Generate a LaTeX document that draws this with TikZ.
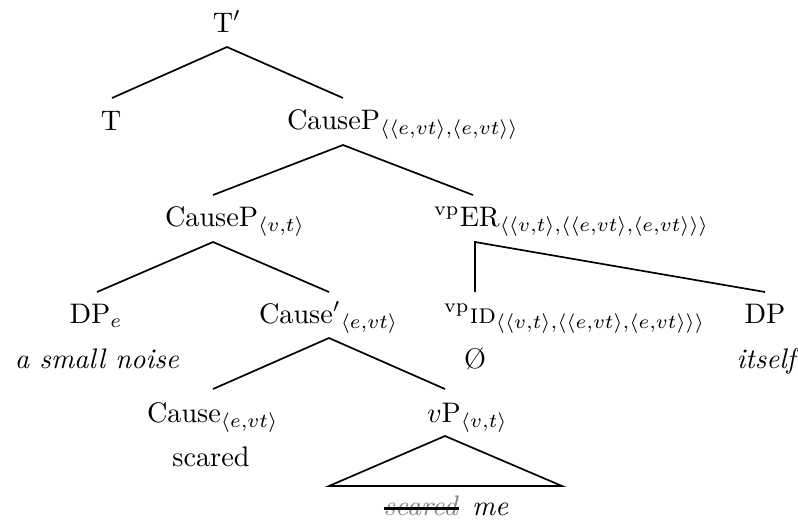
\documentclass[tikz,border=0pt]{standalone}
\usepackage{xcolor}
\begin{document}
\begin{tikzpicture}[x=0.354pt,y=-0.354pt,
  lab/.style={inner sep=0pt,outer sep=0pt},
  edge/.style={line width=0.6pt}]
\useasboundingbox (0,0) rectangle (798,521);
% nodes
\node[lab,anchor=base] (tbar) at (227,32) {T$'$};
\node[lab,anchor=base] (t) at (111,130) {T};
\node[lab,anchor=base west] (cp1) at (287,129) {CauseP$_{\langle\langle e,vt\rangle,\langle e,vt\rangle\rangle}$};
\node[lab,anchor=base west] (cp2) at (165,226) {CauseP$_{\langle v,t\rangle}$};
\node[lab,anchor=base west] (er) at (434,226) {${}^{\mathrm{vp}}$ER$_{\langle\langle v,t\rangle,\langle\langle e,vt\rangle,\langle e,vt\rangle\rangle\rangle}$};
\node[lab,anchor=base] (dpe) at (96,323) {DP$_e$};
\node[lab,anchor=base] (asn) at (97,368) {\textit{a small noise}};
\node[lab,anchor=base west] (cb) at (259,323) {Cause$'{}_{\langle e,vt\rangle}$};
\node[lab,anchor=base west] (id) at (444,323) {${}^{\mathrm{vp}}$\textsc{id}$_{\langle\langle v,t\rangle,\langle\langle e,vt\rangle,\langle e,vt\rangle\rangle\rangle}$};
\node[lab,anchor=base] (dp) at (765,323) {DP};
\node[lab,anchor=base] (nul) at (475,368) {\O};
\node[lab,anchor=base] (its) at (768,368) {\textit{itself}};
\node[lab,anchor=base west] (cause) at (147,422) {Cause$_{\langle e,vt\rangle}$};
\node[lab,anchor=base] (scd) at (211,466) {scared};
\node[lab,anchor=base west] (vp) at (427,422) {$v$P$_{\langle v,t\rangle}$};
\node[lab,anchor=base east] (scd2) at (459,515) {\textcolor{gray}{\textit{scared}}};
\node[lab,anchor=base west] (me) at (472,515) {\textit{me}};
% attach points
\coordinate (tbar-b) at (227,47);
\coordinate (t-t) at (112,98);
\coordinate (cp1-t) at (343,98);
\coordinate (cp1-b) at (343,145);
\coordinate (cp2-t) at (213,195);
\coordinate (er-t) at (473,195);
\coordinate (cp2-b) at (213,242);
\coordinate (dpe-t) at (97,292);
\coordinate (cb-t) at (329,292);
\coordinate (er-b) at (475,242);
\coordinate (id-t) at (475,292);
\coordinate (dp-t) at (765,292);
\coordinate (cb-b) at (329,338);
\coordinate (cause-t) at (213,389);
\coordinate (vp-t) at (445,389);
\coordinate (vp-b) at (445,436);
\coordinate (tri-l) at (329,486);
\coordinate (tri-r) at (562,486);
% edges
\draw[edge] (t-t) -- (tbar-b) -- (cp1-t);
\draw[edge] (cp2-t) -- (cp1-b) -- (er-t);
\draw[edge] (dpe-t) -- (cp2-b) -- (cb-t);
\draw[edge] (id-t) -- (er-b) -- (dp-t);
\draw[edge] (cause-t) -- (cb-b) -- (vp-t);
\draw[edge] (vp-b) -- (tri-l) -- (tri-r) -- cycle;
% strike-through
\draw[line width=1.1pt] ([yshift=2.4pt]scd2.base west) -- ([yshift=2.4pt]scd2.base east);
\end{tikzpicture}
\end{document}
